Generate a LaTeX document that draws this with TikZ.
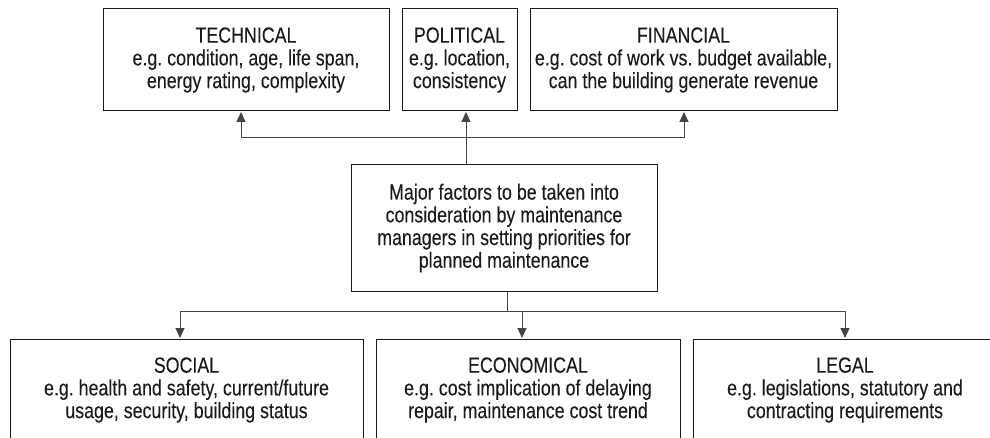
\documentclass[tikz,border=0pt]{standalone}
\usepackage{fontspec}
\setmainfont{Liberation Sans}[FakeStretch=0.81, FakeBold=0.08]
\usetikzlibrary{arrows.meta}
\definecolor{ink}{HTML}{1A1A1A}
\definecolor{wire}{HTML}{444444}
\frenchspacing
\begin{document}
\begin{tikzpicture}[x=1pt,y=-1pt,
  factor/.style={draw=ink, line width=1pt, minimum height=102pt, inner sep=0pt,
    align=center, text=ink, font=\fontsize{22}{22.7}\selectfont\frenchspacing},
  link/.style={draw=wire, line width=1pt},
  arrowlink/.style={link, -{Triangle[length=10pt,width=9pt]}, shorten >=0.5pt}]
\useasboundingbox (0,0) rectangle (990,438);
\clip (0,0) rectangle (990,438);

% upper row of factors
\node[factor, minimum width=286pt] (tech) at (246,60)
  {TECHNICAL\\e.g. condition, age, life span,\\energy rating, complexity};
\node[factor, minimum width=115pt] (pol) at (459.5,60)
  {POLITICAL\\e.g. location,\\consistency};
\node[factor, minimum width=307pt] (fin) at (683.5,60)
  {FINANCIAL\\e.g. cost of work vs. budget available,\\can the building generate revenue};

% central statement
\node[factor, minimum width=306pt, minimum height=126pt] (main) at (504,228)
  {Major factors to be taken into\\consideration by maintenance\\managers in setting priorities for\\planned maintenance};

% lower row of factors
\node[factor, minimum width=353pt] (soc) at (186.5,390)
  {SOCIAL\\e.g. health and safety, current/future\\usage, security, building status};
\node[factor, minimum width=304pt] (eco) at (528,390)
  {ECONOMICAL\\e.g. cost implication of delaying\\repair, maintenance cost trend};
\node[factor, minimum width=304pt] (leg) at (845,390)
  {LEGAL\\e.g. legislations, statutory and\\contracting requirements};

% upper bus
\coordinate (up) at (466,138);
\coordinate (upL) at (241,138);
\coordinate (upR) at (684,138);
\draw[link] (main.north -| up) -- (up);
\draw[link] (upL) -- (upR);
\draw[arrowlink] (up) -- (pol.south -| up);
\draw[arrowlink] (upL) -- (tech.south -| upL);
\draw[arrowlink] (upR) -- (fin.south -| upR);

% lower bus
\coordinate (dn) at (507,311);
\coordinate (dnL) at (180,311);
\coordinate (dnM) at (522,311);
\coordinate (dnR) at (845,311);
\draw[link] (main.south -| dn) -- (dn);
\draw[link] (dnL) -- (dnR);
\draw[arrowlink] (dnL) -- (soc.north -| dnL);
\draw[arrowlink] (dnM) -- (eco.north -| dnM);
\draw[arrowlink] (dnR) -- (leg.north -| dnR);
\end{tikzpicture}
\end{document}
